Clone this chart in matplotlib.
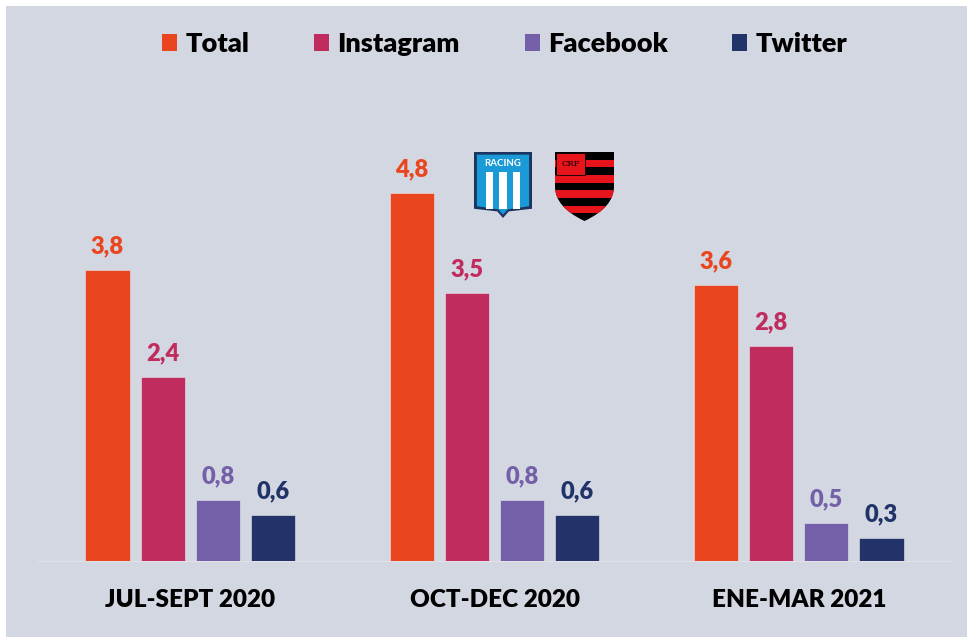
import matplotlib
matplotlib.use("Agg")
import matplotlib.pyplot as plt
import numpy as np
from matplotlib.patches import Patch, Rectangle, PathPatch
from matplotlib.path import Path

# data
periods = ["JUL-SEPT 2020", "OCT-DEC 2020", "ENE-MAR 2021"]
series = ["Total", "Instagram", "Facebook", "Twitter"]
total = [3.8, 4.8, 3.6]
instagram = [2.4, 3.5, 2.8]
facebook = [0.8, 0.8, 0.5]
twitter = [0.6, 0.6, 0.3]
values = [total, instagram, facebook, twitter]
colors = ["#E9461F", "#C02C5E", "#7460A8", "#213368"]

BG = "#D3D7E1"
WT = "heavy"
plt.rcParams["font.family"] = ["Lato", "DejaVu Sans"]

fig = plt.figure(figsize=(9.67, 6.37), dpi=100, facecolor="white")
fig.patches.append(Rectangle((6 / 967, 0), 1, 1 - 6 / 637, transform=fig.transFigure,
                             facecolor=BG, edgecolor="none", zorder=-10))

W, H = 967, 637
ax = fig.add_axes([38 / W, 76 / H, 913 / W, 460 / H])
ax.set_facecolor("none")

x = np.arange(len(periods))
bw = 0.145
step = 0.181
for i, (name, vals, c) in enumerate(zip(series, values, colors)):
    pos = x + (i - 1.5) * step
    ax.bar(pos, vals, width=bw, color=c, edgecolor="#E6E6EE", linewidth=0.4, zorder=3)
    for px, v in zip(pos, vals):
        ax.annotate(f"{v:.1f}".replace(".", ","), (px, v), xytext=(0, 12),
                    textcoords="offset points", ha="center", va="baseline",
                    fontsize=17, fontweight=WT, color=c)

ax.set_xlim(-0.5, 2.5)
ax.set_ylim(0, 6)
ax.set_yticks([])
ax.set_xticks(x)
ax.set_xticklabels(periods, fontsize=17.5, fontweight=WT, color="black")
ax.tick_params(axis="x", length=0, pad=20)
for s in ["top", "right", "left"]:
    ax.spines[s].set_visible(False)
ax.spines["bottom"].set_color("#E2E2E6")
ax.spines["bottom"].set_linewidth(0.8)

handles = [Patch(facecolor=c, edgecolor="none") for c in colors]
fig.legend(handles, series, loc="center", bbox_to_anchor=(0.522, 0.931), ncol=4,
           frameon=False, prop={"size": 19.5, "weight": WT},
           handlelength=0.55, handleheight=0.55, handletextpad=0.3, columnspacing=2.4)

# Racing crest
axr = fig.add_axes([474 / W, (H - 218) / H, 58 / W, 66 / H])
axr.set_xlim(0, 1)
axr.set_ylim(0, 1)
axr.axis("off")
outer = [(0, 1), (1, 1), (1, 0.14), (0.6, 0.1), (0.5, 0), (0.4, 0.1), (0, 0.14), (0, 1)]
axr.add_patch(PathPatch(Path(outer), facecolor="#1B3560", edgecolor="none"))
inner = [(0.05, 0.96), (0.95, 0.96), (0.95, 0.18), (0.58, 0.13), (0.5, 0.05), (0.42, 0.13),
         (0.05, 0.18), (0.05, 0.96)]
axr.add_patch(PathPatch(Path(inner), facecolor="#1A9AD6", edgecolor="none"))
for cx in [0.27, 0.5, 0.73]:
    axr.add_patch(Rectangle((cx - 0.065, 0.14), 0.13, 0.56, facecolor="white", edgecolor="none"))
axr.text(0.5, 0.83, "RACING", color="white", fontsize=7, fontweight="bold",
         ha="center", va="center")

# Flamengo crest
axf = fig.add_axes([555 / W, (H - 221) / H, 59 / W, 69 / H])
axf.set_xlim(0, 1)
axf.set_ylim(0, 1)
axf.axis("off")
verts = [(0, 1), (1, 1), (1, 0.5), (1, 0.2), (0.5, 0), (0, 0.2), (0, 0.5), (0, 1)]
codes = [Path.MOVETO, Path.LINETO, Path.LINETO, Path.CURVE3, Path.CURVE3,
         Path.CURVE3, Path.CURVE3, Path.CLOSEPOLY]
shield = PathPatch(Path(verts, codes), facecolor="black", edgecolor="none")
axf.add_patch(shield)
n = 9
for k in range(n):
    if k % 2 == 1:
        r = Rectangle((0, 1 - (k + 1) / n), 1, 1 / n, facecolor="#E8141B", edgecolor="none")
        axf.add_patch(r)
        r.set_clip_path(shield)
axf.add_patch(Rectangle((0.02, 0.66), 0.48, 0.33, facecolor="#E8141B", edgecolor="black",
                        linewidth=0.6))
axf.text(0.26, 0.82, "CRF", color="black", fontsize=6, family="DejaVu Serif",
         ha="center", va="center")

fig.savefig("out.png", dpi=100, facecolor=fig.get_facecolor())
